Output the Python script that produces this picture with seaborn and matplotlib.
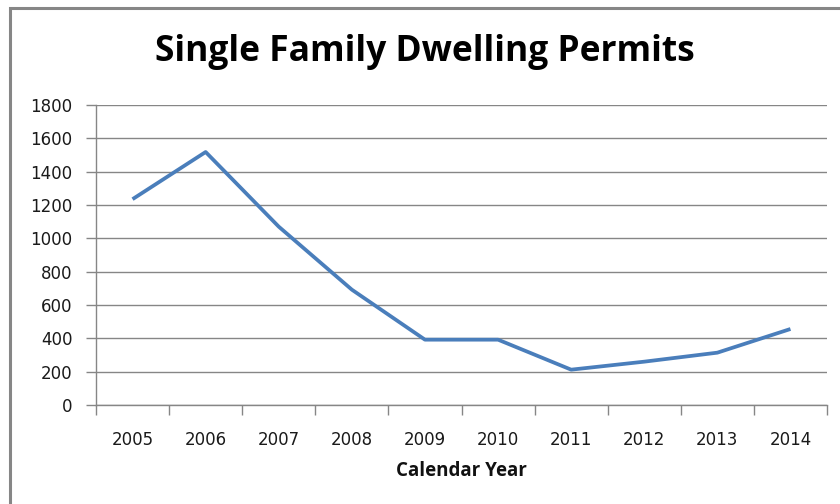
import matplotlib
matplotlib.use("Agg")
import matplotlib.pyplot as plt
import seaborn as sns
import numpy as np
import pandas as pd
from matplotlib.patches import Rectangle

years = [2005, 2006, 2007, 2008, 2009, 2010, 2011, 2012, 2013, 2014]
permits = [1235, 1518, 1070, 692, 392, 392, 212, 260, 314, 456]
yticks = [0, 200, 400, 600, 800, 1000, 1200, 1400, 1600, 1800]

title = "Single Family Dwelling Permits"
xlabel = "Calendar Year"

sns.set_theme(style="white")
plt.rcParams['font.family'] = ['DejaVu Sans']

df = pd.DataFrame({"year": years, "permits": permits})

fig = plt.figure(figsize=(8.4, 5.04), dpi=100)
ax = fig.add_axes([96/840, 1-405/504, (827-96)/840, 300/504])

sns.lineplot(data=df, x="year", y="permits", ax=ax, color="#4a7ebb",
             linewidth=2.7, solid_capstyle="butt")

ax.set_xlim(2004.5, 2014.5)
ax.set_ylim(0, 1800)
ax.set_yticks(yticks)
ax.set_yticklabels([str(v) for v in yticks])
ax.set_xticks(years)
ax.set_xticklabels([str(y) for y in years])
ax.set_xticks(np.arange(2004.5, 2015, 1.0), minor=True)

ax.grid(axis="y", color="#868686", linewidth=1.0)
ax.set_axisbelow(True)
for s in ["top", "right"]:
    ax.spines[s].set_visible(False)
for s in ["left", "bottom"]:
    ax.spines[s].set_color("#868686")
    ax.spines[s].set_linewidth(1.0)

ax.tick_params(axis="y", which="major", left=True, length=7, width=1, color="#868686",
               pad=10, labelsize=12, labelcolor="#1a1a1a")
ax.tick_params(axis="x", which="major", bottom=False, length=0, pad=19,
               labelsize=12, labelcolor="#1a1a1a")
ax.tick_params(axis="x", which="minor", bottom=True, length=7, width=1, color="#868686")

ax.set_ylabel("")
ax.set_xlabel(xlabel, fontsize=13.5, fontweight="bold", family="Open Sans",
              labelpad=8, color="#111111")

fig.text(425/840, 1-52/504, title, ha="center", va="center", fontsize=25.5,
         fontweight="bold", family="Open Sans", color="#000000")

# outer chart border (left and top visible)
fig.patches.append(Rectangle((10/840, -0.1), 1.2, 1 - 8/504 + 0.1, transform=fig.transFigure,
                             fill=False, edgecolor="#868686", linewidth=2.2))

fig.savefig("out.png", dpi=100)
